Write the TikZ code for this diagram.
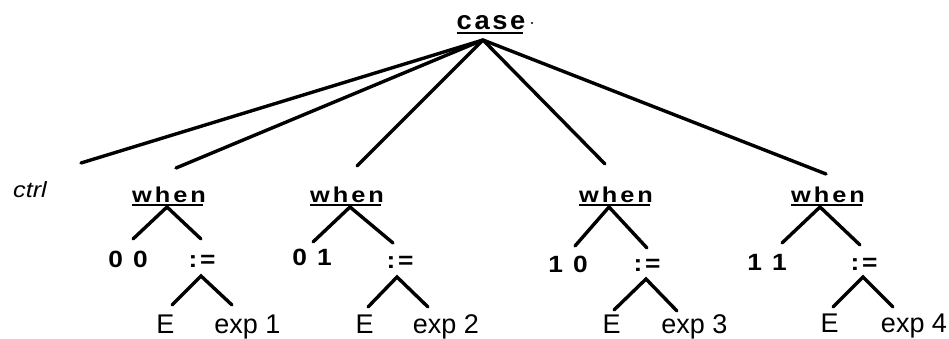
\documentclass[tikz,border=0pt]{standalone}
\usepackage{fontspec}
\setmainfont{Liberation Sans}
\newfontfamily\kwfont[LetterSpace=14,FakeStretch=1.18]{Liberation Sans}
\newfontfamily\casefont[LetterSpace=10,FakeStretch=1.05]{Liberation Sans}
\newfontfamily\numfont[LetterSpace=12,FakeStretch=1.12]{Liberation Sans}
\newfontfamily\ctrlfont[FakeStretch=1.15]{Liberation Sans}
\begin{document}
\begin{tikzpicture}[x=1pt,y=-1pt,
  kw/.style={inner sep=0pt,anchor=base,font=\kwfont\bfseries\fontsize{21.5}{26}\selectfont},
  casekw/.style={inner sep=0pt,anchor=base,font=\casefont\bfseries\fontsize{26}{30}\selectfont},
  num/.style={inner sep=0pt,anchor=base,font=\numfont\bfseries\fontsize{23.5}{27}\selectfont},
  leaf/.style={inner sep=0pt,anchor=base,font=\fontsize{27}{32}\selectfont},
  ctrlst/.style={inner sep=0pt,anchor=base,font=\ctrlfont\itshape\fontsize{22}{27}\selectfont},
  edge/.style={line width=3.4pt,line cap=round},
  ulline/.style={line width=1.5pt}]
\useasboundingbox (0,0) rectangle (949,339);
% texts
\node[casekw] (case) at (491,30) {case};
\fill (532,23) circle (1.1pt);
\node[ctrlst] (ctrl) at (30,197) {ctrl};
\foreach \n/\x in {1/169,2/347,3/616,4/828}{
  \node[kw] (w\n) at (\x,202) {when};
}
\node[num] (d1) at (128,267) {0 0};
\node[num] (d2) at (312,265) {0 1};
\node[num] (d3) at (568,272) {1 0};
\node[num] (d4) at (767,270) {1 1};
\node[num] (a1) at (202,267) {:=};
\node[num] (a2) at (400,268) {:=};
\node[num] (a3) at (647,271) {:=};
\node[num] (a4) at (864,270) {:=};
\node[leaf] (e1) at (165.5,333) {E};
\node[leaf] (e2) at (364.5,333) {E};
\node[leaf] (e3) at (611.5,333) {E};
\node[leaf] (e4) at (829.5,332) {E};
\node[leaf] (x1) at (247.5,333) {exp 1};
\node[leaf] (x2) at (446,333) {exp 2};
\node[leaf] (x3) at (694.5,333) {exp 3};
\node[leaf] (x4) at (914,332) {exp 4};
% underlines
\draw[ulline] ([yshift=-3pt]case.base west) -- ([yshift=-3pt,xshift=-2.6pt]case.base east);
\foreach \n in {w1,w2,w3,w4}{
  \draw[ulline] ([yshift=-3pt]\n.base west) -- ([yshift=-3pt,xshift=-3pt]\n.base east);
}
% coordinates
\coordinate (ca) at (483,40);
\coordinate (c0) at (81,163);
\coordinate (c1) at (176,168);
\coordinate (c2) at (357,166);
\coordinate (c3) at (605,164);
\coordinate (c4) at (826,174);
\coordinate (w1t) at (167,207); \coordinate (w1l) at (133,239); \coordinate (w1r) at (201,239);
\coordinate (w2t) at (350,207); \coordinate (w2l) at (313,242); \coordinate (w2r) at (393,243);
\coordinate (w3t) at (609,207); \coordinate (w3l) at (575,246); \coordinate (w3r) at (647,248);
\coordinate (w4t) at (820,207); \coordinate (w4l) at (782,243); \coordinate (w4r) at (860,245);
\coordinate (a1t) at (201,276); \coordinate (a1l) at (172,305); \coordinate (a1r) at (232,305);
\coordinate (a2t) at (397,277); \coordinate (a2l) at (368,307); \coordinate (a2r) at (428,307);
\coordinate (a3t) at (646,279); \coordinate (a3l) at (614,310); \coordinate (a3r) at (677,311);
\coordinate (a4t) at (863,277); \coordinate (a4l) at (833,307); \coordinate (a4r) at (893,307);
% connectors
\foreach \c in {c0,c1,c2,c3,c4}{ \draw[edge] (ca) -- (\c); }
\foreach \n in {1,2,3,4}{
  \draw[edge] (w\n l) -- (w\n t) -- (w\n r);
  \draw[edge] (a\n l) -- (a\n t) -- (a\n r);
}
\end{tikzpicture}
\end{document}
